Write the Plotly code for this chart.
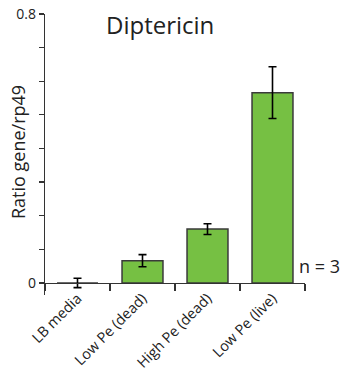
import plotly.graph_objects as go

categories = ["LB media", "Low Pe (dead)", "High Pe (dead)", "Low Pe (live)"]
values = [0.0, 0.066, 0.160, 0.566]
errors = [0.014, 0.018, 0.016, 0.077]
ytick_vals = [0, 0.8]
ytick_text = ["0", "0.8"]
ytick_minor_step = 0.1
title_text = "Diptericin"
ylabel = "Ratio gene/rp49"
n_text = "n = 3"

FONT = "Open Sans"
W, H = 343, 379
ml, mr, mt, mb = 45, 38, 14, 84
ymin, ymax = -0.036, 0.8
plot_w = W - ml - mr
plot_h = H - mt - mb
zero_frac = (0 - ymin) / (ymax - ymin)


def px_x(p):
    return (p - ml) / plot_w


def px_y(p):
    return (H - mb - p) / plot_h


fig = go.Figure()
fig.add_trace(go.Bar(
    x=categories, y=values,
    width=0.63,
    marker=dict(color="#76C043", line=dict(color="#3a3a3a", width=1.5)),
    error_y=dict(type="data", array=errors, visible=True, color="black",
                 thickness=1.6, width=4),
    cliponaxis=False,
    hoverinfo="skip",
))

fig.update_layout(
    width=W, height=H,
    margin=dict(l=ml, r=mr, t=mt, b=mb, pad=0),
    paper_bgcolor="white", plot_bgcolor="white",
    showlegend=False,
    font=dict(family=FONT, color="#222"),
    xaxis=dict(
        type="category", range=[-0.5, 3.5], automargin=False,
        anchor="free", position=zero_frac,
        showline=True, linecolor="#333", linewidth=1.3,
        ticks="outside", tickson="boundaries", ticklen=7, tickcolor="#333", tickwidth=1.3,
        tickangle=-45, tickfont=dict(size=14.5, family=FONT, color="#222"),
        showgrid=False, zeroline=False,
    ),
    yaxis=dict(
        range=[ymin, ymax], automargin=False,
        tickvals=ytick_vals, ticktext=ytick_text,
        showline=True, linecolor="#333", linewidth=1.3,
        ticks="outside", ticklen=5, tickcolor="#333", tickwidth=1.3,
        minor=dict(dtick=ytick_minor_step, tick0=0, ticks="outside", ticklen=5,
                   tickcolor="#333", tickwidth=1.3, showgrid=False),
        tickfont=dict(size=14, family=FONT, color="#222"),
        showgrid=False, zeroline=False,
    ),
)

fig.add_annotation(text=title_text, xref="paper", yref="paper",
                   x=px_x(160), y=px_y(25), xanchor="center", yanchor="middle",
                   showarrow=False, font=dict(size=24, family=FONT, color="#222"))
fig.add_annotation(text=ylabel, xref="paper", yref="paper", textangle=-90,
                   x=px_x(18), y=px_y(152), xanchor="center", yanchor="middle",
                   showarrow=False, font=dict(size=18, family=FONT, color="#222"))
fig.add_annotation(text=n_text, xref="paper", yref="paper",
                   x=px_x(297), y=px_y(266), xanchor="left", yanchor="middle",
                   showarrow=False, font=dict(size=18, family=FONT, color="#222"))

fig.write_html("out.html", config={"displayModeBar": False, "staticPlot": True},
               post_script="document.body.style.margin='0';document.body.style.overflow='hidden';")
